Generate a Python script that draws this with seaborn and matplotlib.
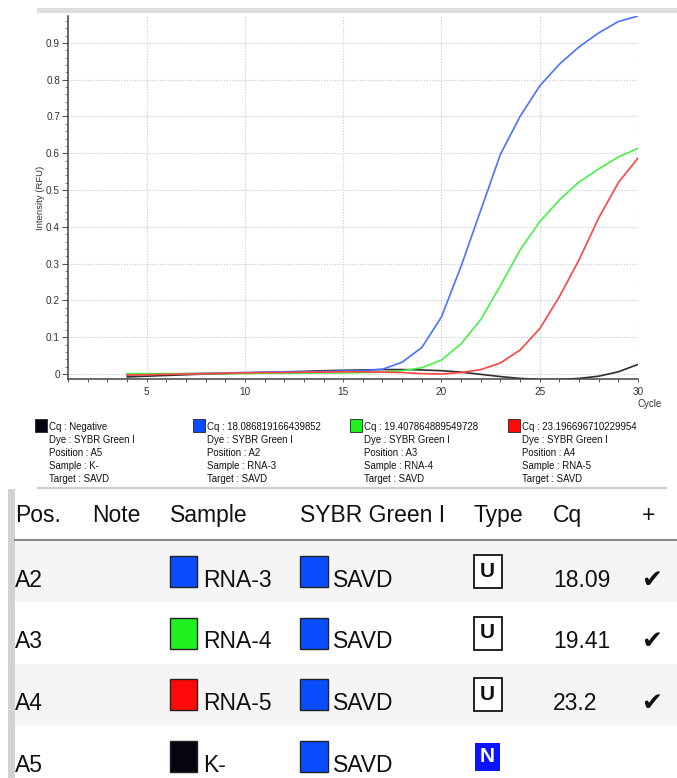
import matplotlib
matplotlib.use("Agg")
import numpy as np
import pandas as pd
import seaborn as sns
import matplotlib.pyplot as plt
from matplotlib.patches import Rectangle
from matplotlib.ticker import MultipleLocator, FuncFormatter

# ---------------- data ----------------
cycles = list(range(4, 31))
rna3 = [-0.002, -0.001, 0.000, 0.001, 0.002, 0.003, 0.004, 0.005, 0.006, 0.006, 0.007, 0.008, 0.009,
        0.013, 0.032, 0.072, 0.155, 0.293, 0.445, 0.597, 0.700, 0.783, 0.842, 0.889, 0.927, 0.958, 0.973]
rna4 = [0.001, 0.001, 0.001, 0.001, 0.001, 0.001, 0.001, 0.002, 0.002, 0.002, 0.003, 0.003, 0.004,
        0.005, 0.009, 0.017, 0.038, 0.082, 0.148, 0.240, 0.337, 0.414, 0.473, 0.522, 0.557, 0.590, 0.613]
rna5 = [-0.003, -0.002, -0.001, 0.000, 0.001, 0.002, 0.003, 0.004, 0.004, 0.005, 0.005, 0.006, 0.006,
        0.005, 0.004, 0.001, 0.000, 0.004, 0.012, 0.030, 0.065, 0.123, 0.210, 0.310, 0.424, 0.520, 0.587]
kneg = [-0.008, -0.006, -0.004, -0.002, 0.000, 0.001, 0.003, 0.004, 0.006, 0.007, 0.009, 0.010, 0.011,
        0.012, 0.012, 0.011, 0.009, 0.005, -0.001, -0.007, -0.012, -0.015, -0.015, -0.012, -0.006, 0.006, 0.026]

series_names = ["K-", "RNA-3", "RNA-4", "RNA-5"]
line_colors = {"K-": "#2f2f2f", "RNA-3": "#4a72ff", "RNA-4": "#48f048", "RNA-5": "#ff4444"}
square_colors = {"K-": "#05050f", "RNA-3": "#0a4dff", "RNA-4": "#1ff01f", "RNA-5": "#ff0a0a"}

legend_cq = ["Negative", "18.086819166439852", "19.407864889549728", "23.196696710229954"]
legend_dye = ["SYBR Green I", "SYBR Green I", "SYBR Green I", "SYBR Green I"]
legend_pos = ["A5", "A2", "A3", "A4"]
legend_sample = ["K-", "RNA-3", "RNA-4", "RNA-5"]
legend_target = ["SAVD", "SAVD", "SAVD", "SAVD"]

table_headers = ["Pos.", "Note", "Sample", "SYBR Green I", "Type", "Cq", "+"]
table_pos = ["A2", "A3", "A4", "A5"]
table_sample = ["RNA-3", "RNA-4", "RNA-5", "K-"]
table_target = ["SAVD", "SAVD", "SAVD", "SAVD"]
table_type = ["U", "U", "U", "N"]
table_cq = ["18.09", "19.41", "23.2", ""]
table_ok = [True, True, True, False]

df = pd.DataFrame({
    "Cycle": cycles * 4,
    "RFU": kneg + rna3 + rna4 + rna5,
    "Sample": sum([[n] * len(cycles) for n in series_names], []),
})

# ---------------- style ----------------
sns.set_theme(style="white")
plt.rcParams["font.family"] = ["Liberation Sans", "DejaVu Sans"]

W, H = 677, 778
fig = plt.figure(figsize=(W / 100, H / 100), dpi=100)
fig.patch.set_facecolor("white")

# overlay axes in pixel coordinates for decorations / legend / table
ov = fig.add_axes([0, 0, 1, 1])
ov.set_xlim(0, W)
ov.set_ylim(H, 0)
ov.axis("off")

# ---------------- chart ----------------
ax = fig.add_axes([68 / W, (H - 379) / H, 570 / W, 363 / H])
sns.lineplot(data=df, x="Cycle", y="RFU", hue="Sample", hue_order=series_names,
             palette=line_colors, legend=False, linewidth=1.2, ax=ax)
ax.set_xlim(1, 30)
ax.set_ylim(-0.0136, 0.973)
ax.xaxis.set_major_locator(MultipleLocator(5))
ax.xaxis.set_minor_locator(MultipleLocator(1))
ax.yaxis.set_major_locator(MultipleLocator(0.1))
ax.yaxis.set_minor_locator(MultipleLocator(0.02))
ax.yaxis.set_major_formatter(FuncFormatter(lambda v, _: "0" if abs(v) < 1e-9 else f"{v:.1f}"))
ax.grid(True, which="major", linestyle=(0, (1, 1.5)), color="#c8c8c8", linewidth=0.8)
for s in ["top", "right"]:
    ax.spines[s].set_visible(False)
for s in ["left", "bottom"]:
    ax.spines[s].set_color("#444444")
    ax.spines[s].set_linewidth(1.1)
ax.tick_params(axis="y", which="major", direction="out", length=4.2, width=0.8, color="#555555",
               labelsize=7.2, labelcolor="#333333", pad=1.5, left=True)
ax.tick_params(axis="y", which="minor", direction="out", length=2.2, width=0.6, color="#777777", left=True)
ax.tick_params(axis="x", which="both", direction="out", length=2.2, width=0.7, color="#555555",
               labelsize=7.2, labelcolor="#333333", pad=3.5, bottom=True)
ax.set_xlabel("")
ax.set_ylabel("Intensity (RFU)", fontsize=6.8, color="#333333")
ax.yaxis.set_label_coords(-0.040, 0.5)

ov.text(662, 404, "Cycle", fontsize=7.0, color="#333333", ha="right", va="center")

# top grey bar
ov.add_patch(Rectangle((37, 8), 640, 5, facecolor="#dedede", edgecolor="none"))

# ---------------- custom legend ----------------
leg_text_x = [49, 207, 364, 522]
for i in range(4):
    tx = leg_text_x[i]
    ov.add_patch(Rectangle((tx - 14, 419), 12, 13, facecolor=square_colors[legend_sample[i]],
                           edgecolor="#222222", linewidth=0.6))
    lines = [f"Cq : {legend_cq[i]}", f"Dye : {legend_dye[i]}", f"Position : {legend_pos[i]}",
             f"Sample : {legend_sample[i]}", f"Target : {legend_target[i]}"]
    for j, t in enumerate(lines):
        ov.text(tx, 427 + 13 * j, t, fontsize=6.9, color="#111111", ha="left", va="center")

ov.plot([37, 667], [487.5, 487.5], color="#cfcfcf", linewidth=1.6, solid_capstyle="butt")

# ---------------- table ----------------
ov.add_patch(Rectangle((8, 489), 7, H - 489, facecolor="#d2d2d2", edgecolor="none"))
hdr_x = [15, 92, 170, 300, 474, 553, 642]
fs = 16.5
for x, t in zip(hdr_x, table_headers):
    ov.text(x, 522, t, fontsize=fs, color="#111111", ha="left", va="baseline")
ov.plot([14, W], [540, 540], color="#8a8a8a", linewidth=1.5, solid_capstyle="butt")

row_h = 61.5
for r in range(4):
    top = 540 + r * row_h
    base = 587 + r * row_h
    if r % 2 == 0:
        ov.add_patch(Rectangle((15, top + 0.8), W - 15, row_h - 0.8, facecolor="#f5f5f5", edgecolor="none"))
    ov.text(15, base, table_pos[r], fontsize=fs, color="#111111", ha="left", va="baseline")
    # sample colour square
    ov.add_patch(Rectangle((170, base - 31), 27, 31, facecolor=square_colors[table_sample[r]],
                           edgecolor="#222222", linewidth=1.0))
    ov.text(203, base, table_sample[r], fontsize=fs, color="#111111", ha="left", va="baseline")
    # target colour square
    ov.add_patch(Rectangle((300, base - 31), 28, 31, facecolor="#0a4dff",
                           edgecolor="#222222", linewidth=1.0))
    ov.text(333, base, table_target[r], fontsize=fs, color="#111111", ha="left", va="baseline")
    # type box
    if table_type[r] == "U":
        ov.add_patch(Rectangle((473.5, base - 32), 28, 33, facecolor="white",
                               edgecolor="#111111", linewidth=1.3))
        ov.text(487.5, base - 15.5, "U", fontsize=15, fontweight="bold", color="#111111",
                ha="center", va="center")
    else:
        ov.add_patch(Rectangle((475, base - 29), 25, 28, facecolor="#0a14ff", edgecolor="none"))
        ov.text(487.5, base - 15, "N", fontsize=15, fontweight="bold", color="white",
                ha="center", va="center")
    if table_cq[r]:
        ov.text(553, base, table_cq[r], fontsize=fs, color="#111111", ha="left", va="baseline")
    if table_ok[r]:
        ov.text(652, base - 7, "\u2714", fontsize=18, color="#111111", ha="center", va="center",
                family=["DejaVu Sans"])

fig.savefig("out.png", dpi=100)
